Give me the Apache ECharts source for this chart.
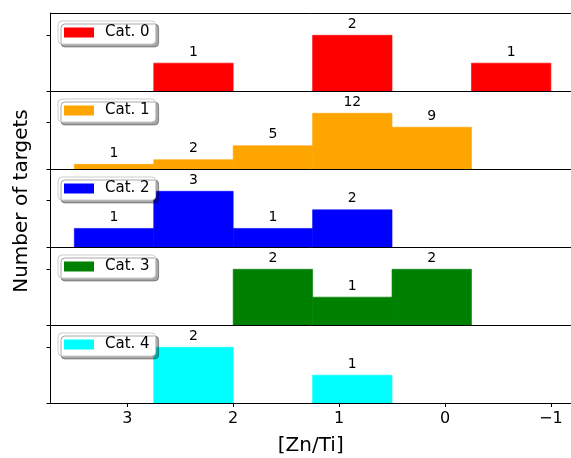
<!DOCTYPE html>
<html>
<head>
<meta charset="utf-8">
<script src="https://cdn.jsdelivr.net/npm/echarts@6/dist/echarts.min.js"></script>
<style>html,body{margin:0;padding:0;background:#fff}#c{width:571px;height:458px}</style>
</head>
<body>
<div id="c"></div>
<script>
// ---- data ----
const binEdges = [3.5, 2.75, 2.0, 1.25, 0.5, -0.25, -1.0];
const categories = ['Cat. 0', 'Cat. 1', 'Cat. 2', 'Cat. 3', 'Cat. 4'];
const cat0 = [0, 1, 0, 2, 0, 1];
const cat1 = [1, 2, 5, 12, 9, 0];
const cat2 = [1, 3, 1, 2, 0, 0];
const cat3 = [0, 0, 2, 1, 2, 0];
const cat4 = [0, 2, 0, 1, 0, 0];
const counts = [cat0, cat1, cat2, cat3, cat4];
const colors = ['#ff0000', '#ffa500', '#0000ff', '#008000', '#00ffff'];
const yTickValues = [[0, 2], [0, 10], [0, 2.5], [0, 2], [0, 2]];
const xTickValues = [3, 2, 1, 0, -1];
const xLabel = '[Zn/Ti]';
const yLabel = 'Number of targets';

// ---- layout ----
const FONT = 'DejaVu Sans';
const left = 50.5, top0 = 13, panelH = 78;
const xMin = -1.19, xMax = 3.725;
const lineStyle = {color: '#000', width: 1};

const grids = [], xAxes = [], yAxes = [], series = [], legends = [];
counts.forEach((arr, k) => {
  const last = k === counts.length - 1;
  const maxC = Math.max(...arr);
  grids.push({left: left, right: 0, top: top0 + k * panelH, height: panelH, show: false});
  xAxes.push({
    type: 'value', gridIndex: k, inverse: true, min: xMin, max: xMax, position: 'bottom',
    axisLine: {show: true, onZero: false, lineStyle: lineStyle}, splitLine: {show: false},
    axisTick: {show: last, length: 4, lineStyle: lineStyle, customValues: xTickValues},
    axisLabel: {show: last, customValues: xTickValues, fontFamily: FONT, fontSize: 16, color: '#000', margin: 8,
      formatter: v => String(v).replace('-', '\u2212')},
    name: last ? xLabel : '', nameLocation: 'middle', nameGap: 33,
    nameTextStyle: {fontFamily: FONT, fontSize: 20, color: '#000'}, z: 5
  });
  yAxes.push({
    type: 'value', gridIndex: k, min: 0, max: maxC * 1.4, position: 'left',
    axisLine: {show: true, onZero: false, lineStyle: lineStyle}, splitLine: {show: false},
    axisTick: {show: true, length: 4, lineStyle: lineStyle, customValues: yTickValues[k]},
    axisLabel: {show: false}, z: 5
  });
  const data = arr.map((c, i) => [binEdges[i], binEdges[i + 1], c]);
  series.push({
    type: 'custom', name: categories[k], xAxisIndex: k, yAxisIndex: k,
    itemStyle: {color: colors[k]},
    encode: {x: [0, 1], y: 2},
    data: data,
    renderItem: (params, api) => {
      const x0 = api.value(0), x1 = api.value(1), c = api.value(2);
      const pTop = api.coord([x0, c]);
      const pBot = api.coord([x1, 0]);
      const rx = Math.min(pTop[0], pBot[0]);
      const rw = Math.abs(pBot[0] - pTop[0]);
      const children = [];
      if (c > 0) {
        children.push({
          type: 'rect',
          shape: {x: rx, y: pTop[1], width: rw, height: pBot[1] - pTop[1]},
          style: {fill: colors[k], stroke: colors[k], lineWidth: 0.6}
        });
        children.push({
          type: 'text',
          style: {text: String(c), x: rx + rw / 2, y: pTop[1] - 4, align: 'center', verticalAlign: 'bottom',
            fontFamily: FONT, fontSize: 14, fill: '#000'}
        });
      }
      return {type: 'group', children: children};
    }
  });
  legends.push({
    data: [{name: categories[k], icon: 'rect'}],
    left: 58, top: top0 + k * panelH + 8,
    orient: 'vertical',
    itemWidth: 30, itemHeight: 10,
    backgroundColor: '#fff', borderColor: '#cccccc', borderWidth: 1, borderRadius: 4,
    padding: [4, 6, 4, 6],
    shadowColor: 'rgba(0,0,0,0.35)', shadowBlur: 0, shadowOffsetX: 3, shadowOffsetY: 3,
    selectedMode: false,
    textStyle: {fontFamily: FONT, fontSize: 15, color: '#000', padding: [0, 0, 0, 6]}
  });
});
// top spine of the first panel
xAxes.push({
  type: 'value', gridIndex: 0, inverse: true, min: xMin, max: xMax, position: 'top',
  axisLine: {show: true, onZero: false, lineStyle: lineStyle}, splitLine: {show: false},
  axisTick: {show: false}, axisLabel: {show: false}
});

const chart = echarts.init(document.getElementById('c'), null, {renderer: 'canvas'});
chart.setOption({
  animation: false,
  backgroundColor: '#fff',
  grid: grids, xAxis: xAxes, yAxis: yAxes, series: series, legend: legends,
  graphic: [{
    type: 'text', x: 22, y: 201, rotation: Math.PI / 2,
    style: {text: yLabel, align: 'center', verticalAlign: 'middle', fontFamily: FONT, fontSize: 20, fill: '#000'}
  }]
});
</script>
</body>
</html>
